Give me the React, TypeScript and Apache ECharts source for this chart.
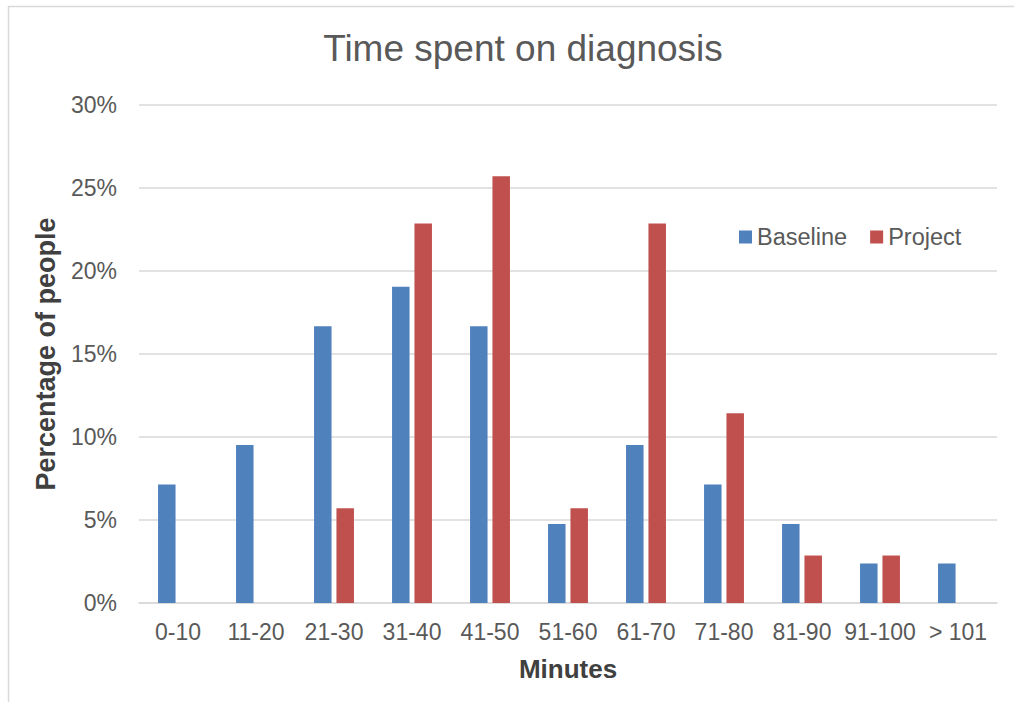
import React, { useEffect, useRef } from "react";
import * as echarts from "echarts";

const categories = ["0-10", "11-20", "21-30", "31-40", "41-50", "51-60", "61-70", "71-80", "81-90", "91-100", "> 101"];
const baseline = [7.14, 9.52, 16.67, 19.05, 16.67, 4.76, 9.52, 7.14, 4.76, 2.38, 2.38];
const project = [0, 0, 5.71, 22.86, 25.71, 5.71, 22.86, 11.43, 2.86, 2.86, 0];
const seriesNames = ["Baseline", "Project"];

export default function App() {
  const ref = useRef<HTMLDivElement>(null);
  useEffect(() => {
    if (!ref.current) return;
    const chart = echarts.init(ref.current, null, { renderer: "svg" });
    const font = "'Liberation Sans', Arial, sans-serif";
    chart.setOption({
      animation: false,
      backgroundColor: "#ffffff",
      title: {
        text: "Time spent on diagnosis",
        left: 518,
        top: 25,
        textAlign: "center",
        textStyle: { fontFamily: font, fontSize: 37, fontWeight: "normal", color: "#595959" },
      },
      graphic: [
        {
          type: "rect",
          shape: { x: 8.5, y: 6.5, width: 1200, height: 900 },
          style: { fill: "none", stroke: "#d9d9d9", lineWidth: 1.5 },
          silent: true,
        },
      ],
      legend: {
        data: seriesNames,
        left: 734,
        top: 220,
        itemWidth: 13,
        itemHeight: 13,
        itemGap: 23,
        icon: "rect",
        textStyle: { fontFamily: font, fontSize: 23.5, color: "#595959" },
      },
      grid: { left: 139, right: 17, top: 105, bottom: 99 },
      xAxis: {
        type: "category",
        data: categories,
        name: "Minutes",
        nameLocation: "middle",
        nameGap: 53,
        nameTextStyle: { fontFamily: font, fontSize: 26, fontWeight: "bold", color: "#404040" },
        axisLine: { lineStyle: { color: "#d9d9d9", width: 1.5 } },
        axisTick: { show: false },
        axisLabel: { fontFamily: font, fontSize: 23, color: "#595959", margin: 17, interval: 0 },
      },
      yAxis: {
        type: "value",
        min: 0,
        max: 30,
        interval: 5,
        name: "Percentage of people",
        nameLocation: "middle",
        nameGap: 80,
        nameTextStyle: { fontFamily: font, fontSize: 27, fontWeight: "bold", color: "#404040" },
        axisLine: { show: false },
        axisTick: { show: false },
        splitLine: { lineStyle: { color: "#d9d9d9", width: 1.5 } },
        axisLabel: { fontFamily: font, fontSize: 23, color: "#595959", margin: 22, formatter: "{value}%" },
      },
      series: [
        {
          name: seriesNames[0],
          type: "bar",
          data: baseline,
          barWidth: 17.5,
          barGap: "28%",
          itemStyle: { color: "#4f81bd" },
        },
        {
          name: seriesNames[1],
          type: "bar",
          data: project,
          barWidth: 17.5,
          barGap: "28%",
          itemStyle: { color: "#c0504d" },
        },
      ],
    });
    return () => chart.dispose();
  }, []);
  return <div ref={ref} style={{ position: "fixed", left: 0, top: 0, width: 1014, height: 702 }} />;
}
